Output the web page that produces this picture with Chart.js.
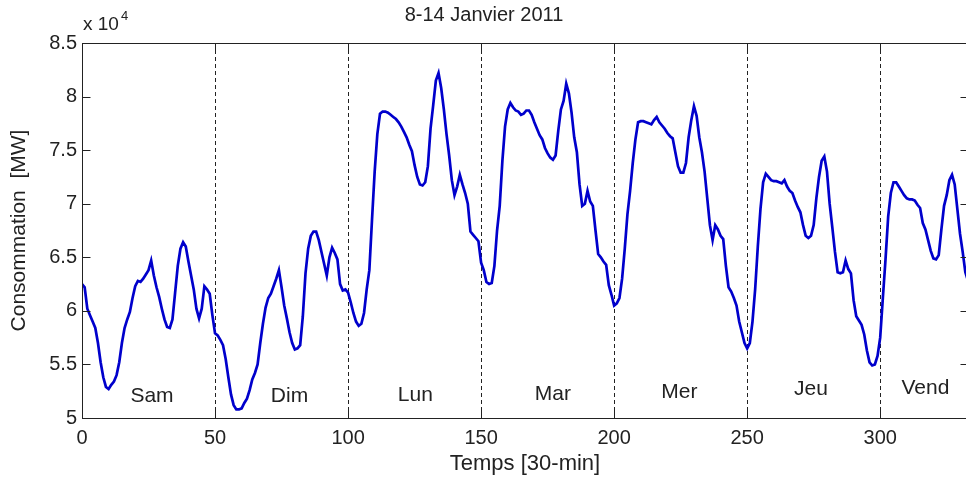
<!DOCTYPE html>
<html>
<head>
<meta charset="utf-8">
<script src="https://cdn.jsdelivr.net/npm/chart.js@4.4.1/dist/chart.umd.min.js"></script>
<style>
  html, body { margin: 0; padding: 0; overflow: hidden; background: #fff; }
  #wrap { width: 970px; height: 480px; }
</style>
</head>
<body>
<div id="wrap"><canvas id="chart" width="970" height="480"></canvas></div>
<script>
// Half-hourly consumption, 8-14 Jan 2011, in units of 10^4 MW
const consumption = [
  6.25, 6.22, 6.02, 5.96, 5.90, 5.84, 5.70, 5.52, 5.38, 5.29,
  5.27, 5.31, 5.34, 5.40, 5.52, 5.70, 5.84, 5.92, 5.99, 6.12,
  6.23, 6.28, 6.27, 6.30, 6.34, 6.38, 6.47, 6.33, 6.22, 6.13,
  6.02, 5.92, 5.85, 5.84, 5.92, 6.17, 6.42, 6.58, 6.64, 6.60,
  6.46, 6.33, 6.20, 6.02, 5.93, 6.02, 6.23, 6.20, 6.16, 5.96,
  5.79, 5.77, 5.73, 5.68, 5.55, 5.38, 5.22, 5.12, 5.08, 5.08,
  5.09, 5.14, 5.18, 5.26, 5.36, 5.42, 5.50, 5.70, 5.88, 6.03,
  6.12, 6.16, 6.23, 6.30, 6.38, 6.22, 6.05, 5.93, 5.80, 5.70,
  5.64, 5.65, 5.68, 5.95, 6.35, 6.58, 6.70, 6.74, 6.74, 6.66,
  6.55, 6.44, 6.33, 6.50, 6.59, 6.54, 6.48, 6.25, 6.19, 6.20,
  6.17, 6.08, 5.98, 5.90, 5.86, 5.88, 5.98, 6.20, 6.38, 6.85,
  7.30, 7.65, 7.84, 7.86, 7.86, 7.85, 7.83, 7.81, 7.79, 7.76,
  7.72, 7.67, 7.62, 7.55, 7.49, 7.36, 7.25, 7.18, 7.17, 7.20,
  7.35, 7.70, 7.92, 8.15, 8.22, 8.08, 7.88, 7.65, 7.45, 7.22,
  7.08, 7.16, 7.27, 7.18, 7.10, 7.00, 6.74, 6.71, 6.68, 6.65,
  6.45, 6.38, 6.27, 6.25, 6.26, 6.42, 6.75, 6.98, 7.40, 7.72,
  7.88, 7.94, 7.90, 7.87, 7.86, 7.83, 7.84, 7.87, 7.87, 7.83,
  7.76, 7.70, 7.64, 7.60, 7.52, 7.47, 7.43, 7.41, 7.45, 7.68,
  7.88, 7.96, 8.12, 8.03, 7.85, 7.62, 7.48, 7.18, 6.98, 7.00,
  7.12, 7.02, 6.98, 6.75, 6.53, 6.50, 6.46, 6.43, 6.24, 6.15,
  6.05, 6.07, 6.12, 6.30, 6.58, 6.90, 7.12, 7.38, 7.60, 7.76,
  7.77, 7.77, 7.76, 7.75, 7.74, 7.78, 7.81, 7.76, 7.73, 7.70,
  7.66, 7.63, 7.61, 7.48, 7.35, 7.29, 7.29, 7.38, 7.62, 7.78,
  7.91, 7.82, 7.62, 7.48, 7.30, 7.05, 6.80, 6.66, 6.80, 6.76,
  6.70, 6.67, 6.42, 6.22, 6.18, 6.12, 6.05, 5.90, 5.80, 5.70,
  5.65, 5.70, 5.90, 6.20, 6.60, 6.95, 7.20, 7.28, 7.25, 7.22,
  7.21, 7.21, 7.20, 7.19, 7.22, 7.16, 7.12, 7.10, 7.03, 6.97,
  6.92, 6.80, 6.70, 6.68, 6.70, 6.80, 7.05, 7.25, 7.40, 7.44,
  7.30, 7.00, 6.78, 6.55, 6.36, 6.35, 6.36, 6.47, 6.39, 6.35,
  6.10, 5.95, 5.91, 5.87, 5.78, 5.63, 5.52, 5.49, 5.50, 5.58,
  5.75, 6.12, 6.48, 6.88, 7.10, 7.20, 7.20, 7.16, 7.12, 7.08,
  7.05, 7.04, 7.04, 7.03, 6.99, 6.96, 6.82, 6.76, 6.66, 6.56,
  6.49, 6.48, 6.52, 6.76, 6.98, 7.08, 7.22, 7.27, 7.18, 6.95,
  6.72, 6.55, 6.36, 6.28
];
const xTicks = [0, 50, 100, 150, 200, 250, 300];
const yTicks = [5, 5.5, 6, 6.5, 7, 7.5, 8, 8.5];
const dayBounds = [50, 100, 150, 200, 250, 300];
const dayNames = ['Sam', 'Dim', 'Lun', 'Mar', 'Mer', 'Jeu', 'Vend'];

// where each day name sits, in (time step, value) coordinates
const dayNameSpots = [[26.3, 5.20], [78, 5.20], [125.3, 5.21], [177, 5.22],
                      [224.5, 5.24], [274, 5.27], [317, 5.28]];

const ink = '#222';
const points = consumption.map((v, i) => ({x: i, y: v}));

// MATLAB-like decorations: dashed day separators, boxed frame with
// inward ticks, day names and the "x 10^4" exponent
const matlabFrame = {
  id: 'matlabFrame',
  beforeDatasetsDraw(chart) {
    const {ctx, chartArea: a, scales: {x}} = chart;
    ctx.save();
    ctx.strokeStyle = ink;
    ctx.lineWidth = 1;
    ctx.setLineDash([4, 3]);
    dayBounds.forEach(d => {
      const px = Math.round(x.getPixelForValue(d)) + 0.5;
      ctx.beginPath();
      ctx.moveTo(px, a.top);
      ctx.lineTo(px, a.bottom);
      ctx.stroke();
    });
    ctx.restore();
  },
  afterDatasetsDraw(chart) {
    const {ctx, chartArea: a, scales: {x, y}} = chart;
    ctx.save();
    ctx.strokeStyle = ink;
    ctx.lineWidth = 1;
    const L = Math.round(a.left) + 0.5, R = Math.round(a.right) + 0.5;
    const T = Math.round(a.top) + 0.5, B = Math.round(a.bottom) + 0.5;
    ctx.strokeRect(L, T, R - L, B - T);
    const tl = 8;
    ctx.beginPath();
    yTicks.forEach(v => {
      const py = Math.round(y.getPixelForValue(v)) + 0.5;
      ctx.moveTo(L, py); ctx.lineTo(L + tl, py);
      ctx.moveTo(R, py); ctx.lineTo(R - tl, py);
    });
    xTicks.forEach(v => {
      const px = Math.round(x.getPixelForValue(v)) + 0.5;
      ctx.moveTo(px, B); ctx.lineTo(px, B - tl);
      ctx.moveTo(px, T); ctx.lineTo(px, T + tl);
    });
    ctx.stroke();

    ctx.fillStyle = ink;
    ctx.font = '21px "Liberation Sans", Arial, sans-serif';
    ctx.textAlign = 'center';
    ctx.textBaseline = 'middle';
    dayNames.forEach((name, i) => {
      const [t, v] = dayNameSpots[i];
      ctx.fillText(name, x.getPixelForValue(t), y.getPixelForValue(v));
    });

    ctx.textAlign = 'left';
    ctx.font = '19px "Liberation Sans", Arial, sans-serif';
    ctx.fillText('x 10', a.left + 1, 25);
    ctx.font = '13px "Liberation Sans", Arial, sans-serif';
    ctx.fillText('4', a.left + 39, 16);
    ctx.restore();
  }
};

new Chart(document.getElementById('chart'), {
  type: 'line',
  data: {
    datasets: [{
      label: 'Consommation',
      data: points,
      borderColor: '#0000cc',
      borderWidth: 2.7,
      pointRadius: 0,
      tension: 0,
      fill: false
    }]
  },
  options: {
    responsive: false,
    animation: false,
    devicePixelRatio: 1,
    layout: {padding: {left: 0, right: 2, top: 0, bottom: 0}},
    plugins: {
      legend: {display: false},
      tooltip: {enabled: false},
      title: {
        display: true,
        text: '8-14 Janvier 2011',
        color: ink,
        font: {family: '"Liberation Sans", Arial, sans-serif', size: 20, weight: 'normal'},
        padding: {top: 3, bottom: 16}
      }
    },
    scales: {
      x: {
        type: 'linear',
        min: 0,
        max: 333,
        afterBuildTicks: s => { s.ticks = xTicks.map(v => ({value: v})); },
        afterFit: s => { s.height = 62; },
        grid: {display: false, drawTicks: false},
        border: {display: false},
        ticks: {
          color: ink,
          padding: 8,
          maxRotation: 0,
          font: {family: '"Liberation Sans", Arial, sans-serif', size: 20},
          callback: v => String(v)
        },
        title: {
          display: true,
          text: 'Temps [30-min]',
          color: ink,
          font: {family: '"Liberation Sans", Arial, sans-serif', size: 22},
          padding: {top: 0, bottom: 3}
        }
      },
      y: {
        min: 5,
        max: 8.5,
        afterBuildTicks: s => { s.ticks = yTicks.map(v => ({value: v})); },
        afterFit: s => { s.width = 82; },
        grid: {display: false, drawTicks: false},
        border: {display: false},
        ticks: {
          color: ink,
          padding: 5,
          font: {family: '"Liberation Sans", Arial, sans-serif', size: 20},
          callback: v => String(v)
        },
        title: {
          display: true,
          text: 'Consommation  [MW]',
          color: ink,
          font: {family: '"Liberation Sans", Arial, sans-serif', size: 21},
          padding: {top: 7, bottom: 0}
        }
      }
    }
  },
  plugins: [matlabFrame]
});
</script>
</body>
</html>
